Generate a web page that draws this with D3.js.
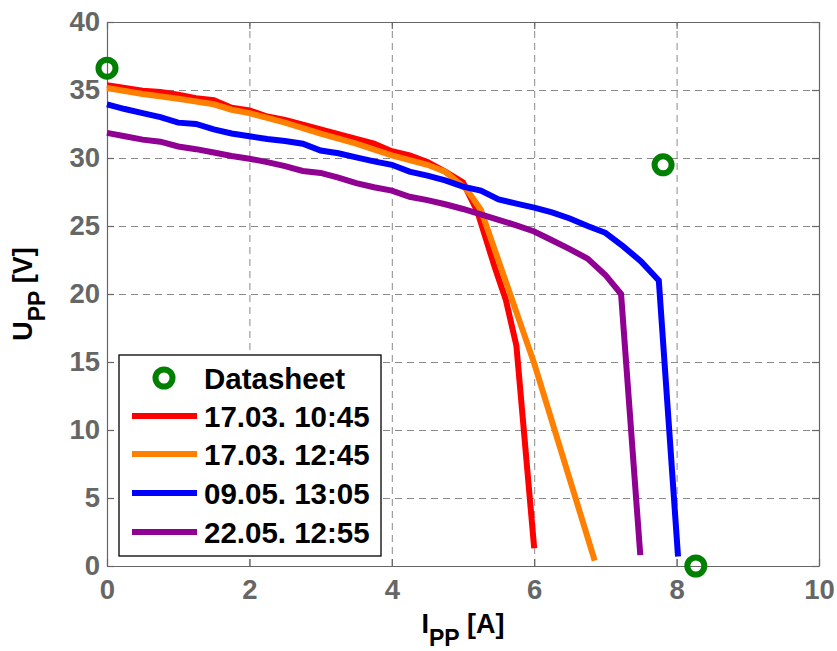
<!DOCTYPE html>
<html>
<head>
<meta charset="utf-8">
<script src="https://cdn.jsdelivr.net/npm/d3@7"></script>
<style>
  body { margin: 0; background: #fff; }
  svg text { font-family: "Liberation Sans", Arial, Helvetica, sans-serif; font-weight: bold; }
  .grid line { stroke: #8a8a8a; stroke-dasharray: 7,5; }
  .grid path { display: none; }
</style>
</head>
<body>
<div id="chart"></div>
<script>
// series names, colours in legend order
const seriesNames = ["17.03. 10:45", "17.03. 12:45", "09.05. 13:05", "22.05. 12:55"];
const seriesColors = ["#ff0000", "#ff8000", "#0000ff", "#8f0093"];

// datasheet points (I [A], U [V])
const datasheetI = [0, 7.81, 8.27];
const datasheetU = [36.6, 29.5, 0];

// 17.03. 10:45
const redI = [0, 0.25, 0.5, 0.75, 1.0, 1.25, 1.5, 1.75, 2.0, 2.25, 2.5, 2.75, 3.0, 3.25, 3.5, 3.75, 4.0, 4.25, 4.5, 4.75, 5.0, 5.2, 5.45, 5.6, 5.75, 6.0];
const redU = [35.35, 35.15, 34.95, 34.85, 34.65, 34.4, 34.25, 33.7, 33.5, 33.05, 32.8, 32.45, 32.1, 31.75, 31.4, 31.05, 30.5, 30.2, 29.7, 29.0, 28.2, 26.1, 21.9, 19.6, 16.2, 1.3];

// 17.03. 12:45
const orangeI = [0, 0.5, 1.0, 1.5, 1.75, 2.0, 2.5, 3.0, 3.5, 4.0, 4.5, 4.75, 5.05, 5.25, 6.0, 6.85];
const orangeU = [35.15, 34.7, 34.35, 33.95, 33.55, 33.3, 32.6, 31.8, 31.05, 30.2, 29.5, 29.0, 27.7, 26.2, 14.9, 0.4];

// 09.05. 13:05
const blueI = [0, 0.25, 0.5, 0.75, 1.0, 1.25, 1.5, 1.75, 2.0, 2.25, 2.5, 2.75, 3.0, 3.25, 3.5, 3.75, 4.0, 4.25, 4.5, 4.75, 5.0, 5.25, 5.5, 5.75, 6.0, 6.25, 6.5, 6.75, 7.0, 7.25, 7.5, 7.75, 8.02];
const blueU = [33.95, 33.6, 33.3, 33.0, 32.6, 32.5, 32.1, 31.8, 31.6, 31.4, 31.25, 31.05, 30.55, 30.35, 30.05, 29.75, 29.5, 29.0, 28.7, 28.35, 27.9, 27.6, 26.95, 26.65, 26.35, 26.0, 25.55, 25.0, 24.5, 23.5, 22.4, 21.0, 0.7];

// 22.05. 12:55
const purpleI = [0, 0.25, 0.5, 0.75, 1.0, 1.25, 1.5, 1.75, 2.0, 2.25, 2.5, 2.75, 3.0, 3.25, 3.5, 3.75, 4.0, 4.25, 4.5, 4.75, 5.0, 5.25, 5.5, 5.75, 6.0, 6.25, 6.5, 6.75, 7.0, 7.22, 7.49];
const purpleU = [31.85, 31.6, 31.35, 31.2, 30.85, 30.65, 30.4, 30.15, 29.95, 29.7, 29.4, 29.05, 28.9, 28.55, 28.15, 27.85, 27.6, 27.15, 26.9, 26.6, 26.25, 25.85, 25.45, 25.05, 24.6, 23.95, 23.3, 22.6, 21.4, 20.0, 0.8];

const xTicks = [0, 2, 4, 6, 8, 10];
const yTicks = [0, 5, 10, 15, 20, 25, 30, 35, 40];

const seriesI = [redI, orangeI, blueI, purpleI];
const seriesU = [redU, orangeU, blueU, purpleU];

const W = 837, H = 651;
const margin = { top: 22, right: 18, bottom: 85, left: 107 };
const width = W - margin.left - margin.right;
const height = H - margin.top - margin.bottom;

const svg = d3.select("#chart").append("svg")
    .attr("width", W)
    .attr("height", H);

const g = svg.append("g")
    .attr("transform", `translate(${margin.left},${margin.top})`);

const x = d3.scaleLinear().domain([0, 10]).range([0, width]);
const y = d3.scaleLinear().domain([0, 40]).range([height, 0]);

// grid
g.append("g").attr("class", "grid")
    .attr("transform", `translate(0,${height})`)
    .call(d3.axisBottom(x).tickValues(xTicks.slice(1, -1)).tickSize(-height).tickFormat(""));
g.append("g").attr("class", "grid")
    .call(d3.axisLeft(y).tickValues(yTicks.slice(1, -1)).tickSize(-width).tickFormat(""));

// box with inward ticks
const axisColor = "#666";
const fs = 27.5;
const xAxisB = g.append("g")
    .attr("transform", `translate(0,${height})`)
    .call(d3.axisBottom(x).tickValues(xTicks).tickSizeInner(-7).tickSizeOuter(0).tickPadding(13));
const xAxisT = g.append("g")
    .call(d3.axisTop(x).tickValues(xTicks).tickSizeInner(-7).tickSizeOuter(0).tickFormat(""));
const yAxisL = g.append("g")
    .call(d3.axisLeft(y).tickValues(yTicks).tickSizeInner(-7).tickSizeOuter(0).tickPadding(7));
const yAxisR = g.append("g")
    .attr("transform", `translate(${width},0)`)
    .call(d3.axisRight(y).tickValues(yTicks).tickSizeInner(-7).tickSizeOuter(0).tickFormat(""));

[xAxisB, xAxisT, yAxisL, yAxisR].forEach(a => {
    a.selectAll("path, line").attr("stroke", axisColor).attr("stroke-width", 1.2);
    a.selectAll("text").attr("fill", axisColor).style("font-size", fs + "px");
});

// curves
const line = d3.line().x(d => x(d[0])).y(d => y(d[1]));
seriesI.forEach((xs, k) => {
    const pts = xs.map((v, i) => [v, seriesU[k][i]]);
    g.append("path")
        .datum(pts)
        .attr("fill", "none")
        .attr("stroke", seriesColors[k])
        .attr("stroke-width", 6)
        .attr("stroke-linejoin", "miter")
        .attr("d", line);
});

// datasheet markers
g.selectAll("circle.ds")
    .data(datasheetI.map((v, i) => [v, datasheetU[i]]))
    .enter().append("circle")
    .attr("class", "ds")
    .attr("cx", d => x(d[0]))
    .attr("cy", d => y(d[1]))
    .attr("r", 8.5)
    .attr("fill", "none")
    .attr("stroke", "#008000")
    .attr("stroke-width", 6);

// axis labels
const xl = svg.append("text")
    .attr("x", margin.left + width / 2)
    .attr("y", 633)
    .attr("text-anchor", "middle")
    .style("font-size", "27px")
    .attr("fill", "#000");
xl.append("tspan").text("I");
xl.append("tspan").attr("dy", 13).style("font-size", "23px").text("PP");
xl.append("tspan").attr("dy", -13).text(" [A]");

const yl = svg.append("text")
    .attr("transform", `translate(32,${margin.top + height / 2}) rotate(-90)`)
    .attr("text-anchor", "middle")
    .style("font-size", "27px")
    .attr("fill", "#000");
yl.append("tspan").text("U");
yl.append("tspan").attr("dy", 13).style("font-size", "23px").text("PP");
yl.append("tspan").attr("dy", -13).text(" [V]");

// legend
const legend = svg.append("g").attr("transform", "translate(119,355)");
legend.append("rect")
    .attr("width", 262).attr("height", 201)
    .attr("fill", "#fff").attr("stroke", "#000").attr("stroke-width", 1.3);

const rowY = [23, 61, 99, 138, 177];
legend.append("circle")
    .attr("cx", 45).attr("cy", rowY[0])
    .attr("r", 8.5).attr("fill", "none")
    .attr("stroke", "#008000").attr("stroke-width", 6);
legend.append("text")
    .attr("x", 85).attr("y", rowY[0]).attr("dy", "0.36em")
    .style("font-size", "29.5px").text("Datasheet");

seriesNames.forEach((name, k) => {
    legend.append("line")
        .attr("x1", 13).attr("x2", 78)
        .attr("y1", rowY[k + 1]).attr("y2", rowY[k + 1])
        .attr("stroke", seriesColors[k]).attr("stroke-width", 6);
    legend.append("text")
        .attr("x", 85).attr("y", rowY[k + 1]).attr("dy", "0.36em")
        .style("font-size", "29.5px").text(name);
});
</script>
</body>
</html>
